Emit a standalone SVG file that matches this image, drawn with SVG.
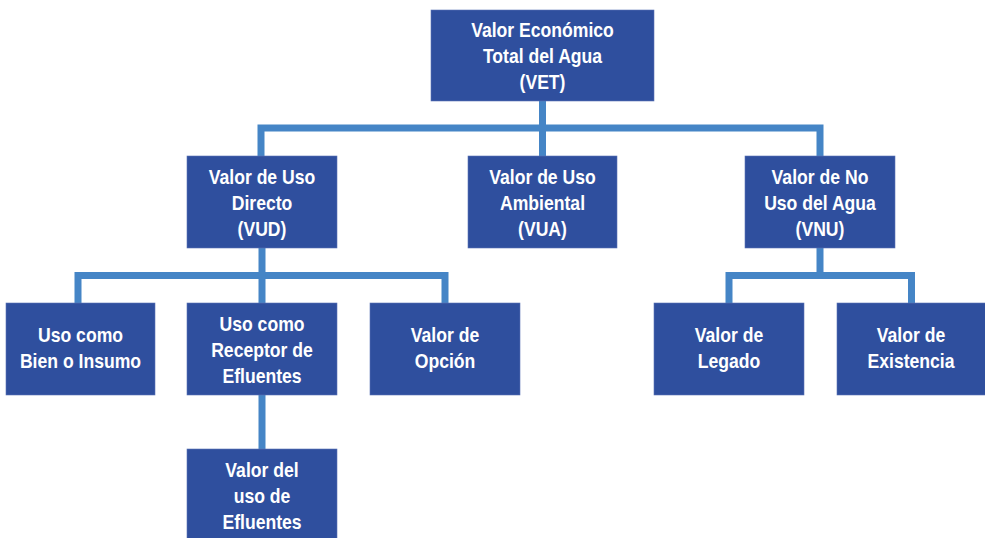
<svg xmlns="http://www.w3.org/2000/svg" width="985" height="538" viewBox="0 0 985 538">
<style>
.box{fill:#2f4f9e;stroke:#5a73b5;stroke-width:0.6}
.lbl{font-family:"Liberation Sans",Arial,sans-serif;font-weight:bold;font-size:20px;fill:#fff;text-anchor:middle}
.con{fill:none;stroke:#4585c6;stroke-width:7;stroke-linejoin:miter}
</style>
<rect width="985" height="538" fill="#fff"/>
<g id="connectors">
<path class="con" d="M261,156 V128 H820 V156"/>
<path class="con" d="M542.5,101 V156"/>
<path class="con" d="M78,303 V275.5 H445 V303"/>
<path class="con" d="M262,248 V449"/>
<path class="con" d="M729,303 V275.5 H911.5 V303"/>
<path class="con" d="M820,248 V275.5"/>
</g>
<g id="vet">
<rect class="box" x="431" y="10" width="223" height="91"/>
<g transform="translate(542.5 0) scale(0.88 1)"><text class="lbl"><tspan x="0" y="37">Valor Económico</tspan><tspan x="0" y="63">Total del Agua</tspan><tspan x="0" y="89">(VET)</tspan></text></g>
</g>
<g id="vud">
<rect class="box" x="187" y="156" width="150" height="92"/>
<g transform="translate(262 0) scale(0.88 1)"><text class="lbl"><tspan x="0" y="184">Valor de Uso</tspan><tspan x="0" y="210">Directo</tspan><tspan x="0" y="236">(VUD)</tspan></text></g>
</g>
<g id="vua">
<rect class="box" x="468" y="156" width="149" height="92"/>
<g transform="translate(542.5 0) scale(0.88 1)"><text class="lbl"><tspan x="0" y="184">Valor de Uso</tspan><tspan x="0" y="210">Ambiental</tspan><tspan x="0" y="236">(VUA)</tspan></text></g>
</g>
<g id="vnu">
<rect class="box" x="745" y="156" width="150" height="92"/>
<g transform="translate(820 0) scale(0.88 1)"><text class="lbl"><tspan x="0" y="184">Valor de No</tspan><tspan x="0" y="210">Uso del Agua</tspan><tspan x="0" y="236">(VNU)</tspan></text></g>
</g>
<g id="bien">
<rect class="box" x="6" y="303" width="149" height="92"/>
<g transform="translate(80.5 0) scale(0.88 1)"><text class="lbl"><tspan x="0" y="342">Uso como</tspan><tspan x="0" y="368">Bien o Insumo</tspan></text></g>
</g>
<g id="receptor">
<rect class="box" x="187" y="303" width="150" height="92"/>
<g transform="translate(262 0) scale(0.88 1)"><text class="lbl"><tspan x="0" y="331">Uso como</tspan><tspan x="0" y="357">Receptor de</tspan><tspan x="0" y="383">Efluentes</tspan></text></g>
</g>
<g id="opcion">
<rect class="box" x="370" y="303" width="150" height="92"/>
<g transform="translate(445 0) scale(0.88 1)"><text class="lbl"><tspan x="0" y="342">Valor de</tspan><tspan x="0" y="368">Opción</tspan></text></g>
</g>
<g id="legado">
<rect class="box" x="654" y="303" width="150" height="92"/>
<g transform="translate(729 0) scale(0.88 1)"><text class="lbl"><tspan x="0" y="342">Valor de</tspan><tspan x="0" y="368">Legado</tspan></text></g>
</g>
<g id="existencia">
<rect class="box" x="837" y="303" width="149" height="92"/>
<g transform="translate(911 0) scale(0.88 1)"><text class="lbl"><tspan x="0" y="342">Valor de</tspan><tspan x="0" y="368">Existencia</tspan></text></g>
</g>
<g id="efluentes">
<rect class="box" x="187" y="449" width="150" height="95"/>
<g transform="translate(262 0) scale(0.88 1)"><text class="lbl"><tspan x="0" y="477">Valor del</tspan><tspan x="0" y="503">uso de</tspan><tspan x="0" y="529">Efluentes</tspan></text></g>
</g>
</svg>
